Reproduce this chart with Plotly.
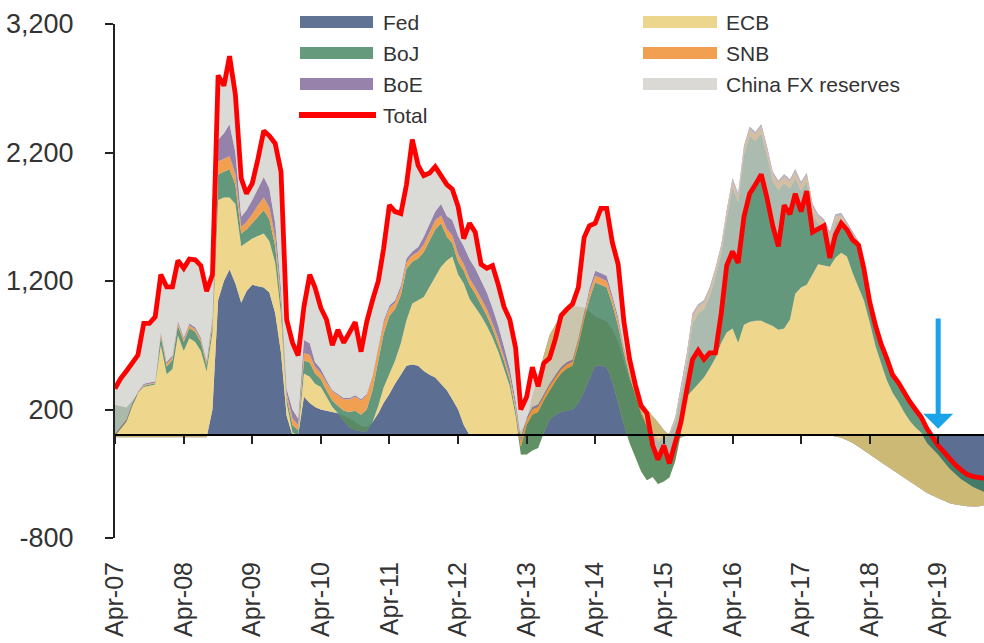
import plotly.graph_objects as go
import pandas as pd

# Monthly 12-month flows, USD bn, Apr-07 .. Dec-19 (153 months)
months = pd.date_range("2007-04-01", periods=153, freq="MS")

fed = [-15]*17 + [
    200, 1050, 1200, 1290, 1180, 1030, 1120, 1170, 1160, 1150, 1110, 950, 640, 150, 0, 0,
    300, 250, 220, 200, 190, 180, 170, 150, 130, 100, 70, 60, 100, 170, 250, 320, 400,
    470, 540, 550, 540, 500, 470, 450, 400, 350, 280, 200, 80, 0, 0, 0, 0, 0, 0, 0, 0, 0, 30,
    100, 300, 450, 620, 780, 860, 920, 960, 1000, 1000, 990, 960, 920, 900, 880, 820, 720, 560,
    420, 330, 260, 200, 150, 100, 40, 0, -20, -20] + [0]*26 + [
    -10, -20, -40, -60, -90, -120, -150, -180, -210, -240, -270, -300, -330, -360, -390, -420,
    -450, -470, -490, -515, -530, -540, -548, -553, -555, -555, -545]

ecb = [
    250, 240, 230, 280, 340, 390, 400, 410, 715, 490, 530, 790, 670, 770, 740, 670, 510,
    600, 780, 650, 560, 620, 440, 380, 360, 390, 420, 400, 390, 300, 100, 20, 0,
    180, 205, 180, 175, 110, 40, 0, -40, -70, -60, -40, -30, 0, 60, 120, 160, 180,
    245, 355, 475, 510, 575, 685, 785, 910, 1010, 1110, 1050, 1100, 1060, 1000, 930, 850, 760,
    650, 520, 380, 150, -180,
    -250, -420, -550, -600, -660, -700, -740, -770, -800, -750, -650, -520, -380, -360, -350,
    -400, -470, -480, -480, -500, -540, -550, -475, -480, -400, -330, -180, 30,
    300, 350, 400, 450, 520, 600, 720, 800, 830, 720, 860, 880, 890, 890, 870, 850, 820, 830,
    900, 1100, 1150, 1170, 1250, 1330, 1320, 1310,
    1390, 1440, 1430, 1320, 1240, 1170, 1030, 880, 770, 670, 600, 560, 510, 470, 450, 440, 390,
    370, 340, 310, 270, 240, 208, 183, 155, 135, 105]

boj = [
    -240, -180, -110, -40, 0, 10, 10, 10, 70, 60, 70, 80, 70, 80, 80, 70, 50,
    60, 200, 200, 220, 150, 100, 100, 120, 150, 180, 170, 130, 80, 40, 60, 40,
    100, 110, 80, 60, 50, 50, 60, 80, 120, 150, 130, 170, 250, 350, 420, 450, 400,
    375, 400, 325, 325, 350, 365, 365, 340, 185, 105, 100, 100, 110, 100, 90, 80, 70, 60, 60,
    50, 40, 60,
    230, 280, 280, 250, 230, 260, 300, 330, 340, 450, 560, 620, 650, 630, 620, 600, 600, 560,
    520, 480, 450, 420, 340, 330, 340, 330, 300, 300,
    250, 520, 550, 530, 560, 630, 690, 880, 1100, 1090, 1320, 1450, 1400, 1460, 1310, 1130,
    1090, 1130, 1020, 900, 750, 800, 480, 320, 290, 200,
    280, 260, 220, 270, 310, 220, 150, 130, 120, 140, 120, 130, 130, 130, 120, 105, 100, 75,
    65, 70, 70, 65, 65, 60, 75, 83, 98]

snb = [5]*8 + [20]*9 + [
    30, 100, 100, 100, 80, 50, 60, 70, 90, 100, 90, 70, 50, 30, 50, 40,
    60, 60, 50, 50, 60, 70, 80, 90, 100, 110, 110, 110, 100, 90, 80, 60, 50,
    50, 50, 50, 50, 60, 60, 70, 60, 60, 60, 60, 50, 50, 50, 50, 50, 40, 40, 30, 30, 40, 40,
    40, 40, 40, 30, 30, 30, 30, 30, 30, 30, 40, 50, 50, 50, 50, 40, 40, 30, 30, 20, 20, 20,
    20, 20, 20, 20, 30, 40] + [50]*26 + [
    40, 30, 30, 30, 30, 20, 20, 20, 20, 20, 15, 15, 15, 15, 15, 10] + [5]*11

boe = [10]*8 + [15]*9 + [
    30, 170, 200, 250, 170, 80, 90, 110, 130, 160, 150, 110, 70, 40, 70, 50,
    100, 90, 40, 30, 20, 10, 10, 10, 10, 10, 10, 10, 10, 10, 20, 20, 20,
    25, 30, 30, 40, 60, 60, 70, 90, 100, 120, 140, 140, 150, 150, 140, 130, 120, 100, 80, 60,
    40, 30,
    20, 20, 20, 20, 20, 20, 20, 20, 20, 20, 20, 30, 40, 40, 40, 30, 30, 20, 10, 10, 0, 0, 0,
    0, 0, 0, 10, 30,
    30, 30] + [20]*24 + [20]*5 + [10]*5 + [5]*7 + [0]*10

china = [
    354, 380, 380, 320, 283, 470, 460, 501, 445, 585, 535, 470, 540, 500, 525, 560, 540,
    330, 500, 370, 530, 450, 300, 130, 130, 230, 360, 410, 620, 910, 540, 520, 490,
    260, 535, 580, 475, 470, 350, 500, 430, 510, 570, 370, 560, 590, 520, 560, 780, 690,
    560, 575, 870, 635, 475, 400, 350, 220, 245, 240, 230, 60, 280, 280, 120, 190, 330, 320,
    310, 380, 410, 220,
    160, 310, 140, 240, 200, 280, 400, 410, 430, 400, 580, 490, 370, 505, 525, 410, 410, 190,
    90, 50, 40, 80, -115, -160, -80, -240, -190, -280,
    -280, -360, -360, -460, -510, -660, -530, -430, -570, -540, -550, -520, -410, -390, -400,
    -420, -510, -240, -270, -190, -230, -140, -220, -120, -50, -200,
    -160, -80, -60, -60, -30, 0, -20] + [0]*20

total = [
    364, 440, 500, 560, 623, 870, 870, 921, 1250, 1155, 1155, 1360, 1300, 1370, 1365, 1320, 1120,
    1250, 2800, 2720, 2950, 2650, 2000, 1880, 1960, 2150, 2370, 2330, 2270, 2050, 900, 720, 620,
    1000, 1250, 1150, 990, 900, 700, 820, 720, 800, 880, 650, 880, 1050, 1200, 1450, 1790, 1740,
    1725, 1950, 2300, 2100, 2020, 2040, 2090, 2020, 1950, 1915, 1780, 1530, 1650, 1580, 1330,
    1300, 1320, 1170, 1000, 900, 680, 200,
    300, 530, 380, 560, 600, 750, 930, 980, 1020, 1150, 1540, 1630, 1650, 1765, 1765, 1500,
    1330, 880, 590, 390, 230, 170, -80, -190, -80, -220, -50, 100,
    350, 590, 660, 590, 640, 640, 950, 1320, 1430, 1340, 1700, 1880, 1950, 2030, 1850, 1630,
    1470, 1790, 1720, 1880, 1740, 1900, 1580, 1600, 1630, 1380,
    1560, 1650, 1600, 1520, 1480, 1300, 1040, 860, 710, 600, 470, 410, 330, 260, 200, 140, 50,
    -20, -80, -130, -185, -230, -270, -305, -320, -332, -337]

tick_dates = pd.date_range("2007-04-01", periods=13, freq="12MS")
tick_labels = ["Apr-%02d" % (y % 100) for y in range(2007, 2020)]
y_ticks = [-800, 200, 1200, 2200, 3200]
y_labels = ["-800", "200", "1,200", "2,200", "3,200"]

series = [
    ("Fed", fed, "rgba(64,86,128,0.85)", "rgb(96,115,149)"),
    ("ECB", ecb, "rgba(234,204,111,0.8)", "rgb(236,213,140)"),
    ("BoJ", boj, "rgba(60,126,92,0.8)", "rgb(102,154,125)"),
    ("SNB", snb, "rgba(237,143,49,0.85)", "rgb(240,160,80)"),
    ("BoE", boe, "rgba(131,108,155,0.85)", "rgb(150,130,170)"),
    ("China FX reserves", china, "rgba(202,202,198,0.7)", "rgb(218,217,214)"),
]

FONT = "Liberation Sans, Arial, sans-serif"
fig = go.Figure()
for name, vals, fc, _ in series:
    fig.add_trace(go.Scatter(x=months, y=vals, name=name, stackgroup="cb",
                             mode="lines", line=dict(width=0, color=fc),
                             fillcolor=fc, hoverinfo="skip", showlegend=False))
fig.add_trace(go.Scatter(x=months, y=total, name="Total", mode="lines",
                         line=dict(color="#ff0000", width=4.8), hoverinfo="skip",
                         showlegend=False))
# dummy trace so the zero-line axis is drawn
fig.add_trace(go.Scatter(x=[months[0]], y=[None], xaxis="x2", yaxis="y",
                         showlegend=False, hoverinfo="skip"))

L, R, T, B = 115, 0, 24, 105
W, H = 984, 643
pw, ph = W - L - R, H - T - B
px = lambda v: (v - L) / pw
py = lambda v: (H - B - v) / ph

shapes = []
annos = []
left_items = [("Fed", 22), ("BoJ", 53), ("BoE", 84)]
right_items = [("ECB", 22), ("SNB", 53), ("China FX reserves", 84)]
colors = {s[0]: s[3] for s in series}
for items, x0, x1, xt in [(left_items, 300, 373, 381), (right_items, 643, 717, 724)]:
    for name, yc in items:
        shapes.append(dict(type="rect", xref="paper", yref="paper",
                           x0=px(x0), x1=px(x1), y0=py(yc + 6), y1=py(yc - 6),
                           fillcolor=colors[name], line=dict(width=0)))
        annos.append(dict(text=name, xref="paper", yref="paper", x=px(xt), y=py(yc),
                          xanchor="left", yanchor="middle", showarrow=False,
                          font=dict(family=FONT, size=21, color="#333")))
shapes.append(dict(type="line", xref="paper", yref="paper", x0=px(299), x1=px(376),
                   y0=py(115), y1=py(115), line=dict(color="#ff0000", width=6)))
annos.append(dict(text="Total", xref="paper", yref="paper", x=px(381), y=py(115),
                  xanchor="left", yanchor="middle", showarrow=False,
                  font=dict(family=FONT, size=21, color="#333")))
# blue arrow at Apr-19
annos.append(dict(x=tick_dates[-1], y=50, ax=tick_dates[-1], ay=920, xref="x", yref="y",
                  axref="x", ayref="y", text="", showarrow=True, arrowhead=1,
                  arrowsize=1.0, arrowwidth=5, arrowcolor="#1AA3E8"))

fig.update_layout(
    width=W, height=H, margin=dict(l=L, r=R, t=T, b=B, autoexpand=False),
    paper_bgcolor="white", plot_bgcolor="white",
    font=dict(family=FONT, color="#333"),
    shapes=shapes, annotations=annos,
    xaxis=dict(type="date", range=[months[0], months[-1]], tickvals=tick_dates,
               ticktext=tick_labels, tickangle=-90, ticks="", showline=False,
               showgrid=False, zeroline=False, ticklabelstandoff=18, automargin=False,
               tickfont=dict(family=FONT, size=25, color="#333")),
    xaxis2=dict(type="date", overlaying="x", matches="x", anchor="free", position=0.2,
                showline=True, linecolor="black", linewidth=2, ticks="outside",
                ticklen=8, tickwidth=2, tickcolor="#222", tickvals=tick_dates,
                showticklabels=False, showgrid=False, zeroline=False, automargin=False),
    yaxis=dict(range=[-800, 3200], tickvals=y_ticks, ticktext=y_labels, showline=True,
               linecolor="#222", linewidth=2, ticks="outside", ticklen=8, tickwidth=2,
               tickcolor="#222", showgrid=False, zeroline=False, ticklabelstandoff=26,
               automargin=False, tickfont=dict(family=FONT, size=27, color="#333")),
)

fig.write_html("out.html", config={"displayModeBar": False},
               post_script="document.body.style.margin='0';document.body.style.overflow='hidden';")
